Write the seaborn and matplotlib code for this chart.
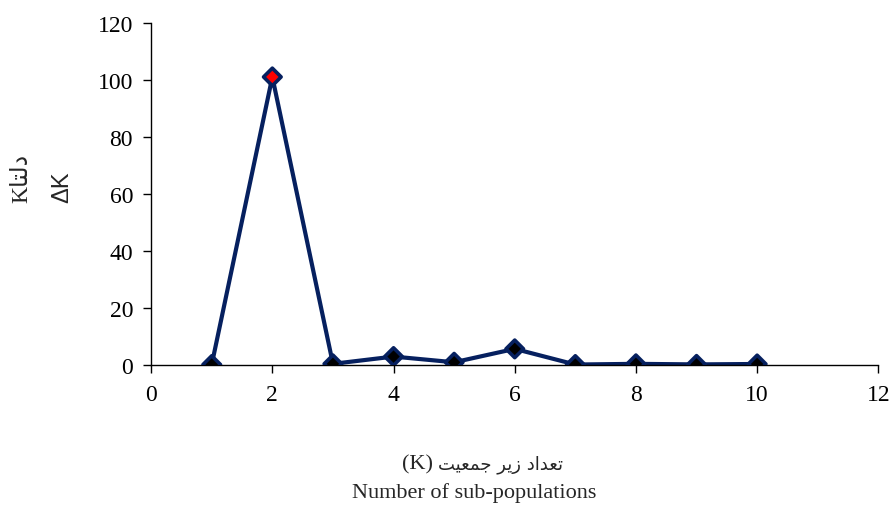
import matplotlib
matplotlib.use("Agg")
import matplotlib.pyplot as plt
import seaborn as sns
import pandas as pd

k_values = [1, 2, 3, 4, 5, 6, 7, 8, 9, 10]
delta_k = [0.1, 101.0, 0.35, 2.9, 0.9, 5.6, 0.1, 0.35, 0.15, 0.3]
highlight = [False, True, False, False, False, False, False, False, False, False]
x_ticks = [0, 2, 4, 6, 8, 10, 12]
y_ticks = [0, 20, 40, 60, 80, 100, 120]

# pre-shaped Persian (visual order, presentation forms)
xlabel_fa = "\uFE96\uFBFF\uFECC\uFEE4\uFE9F" + " " + "\uFEAE\uFBFE\uFEAF" + " " + "\uFEA9\uFE8D\uFEAA\uFECC\uFE97"
xlabel_k = "(K)"
xlabel_en = "Number of sub-populations"
ylabel_fa = "K" + "\uFE8E\uFE98\uFEDF\uFEA9"
ylabel_en = "\u0394K"

sns.set_theme(style="white")
plt.rcParams["font.family"] = ["Liberation Serif", "DejaVu Sans"]

df = pd.DataFrame({"K": k_values, "dK": delta_k, "hl": highlight})

fig = plt.figure(figsize=(8.89, 5.06), dpi=100)
ax = fig.add_axes([0.170, 0.277, 0.818, 0.676])

navy = "#06205f"
sns.lineplot(data=df, x="K", y="dK", ax=ax, color=navy, linewidth=3.0, zorder=2)
faces = ["red" if h else "black" for h in df["hl"]]
ax.scatter(df["K"], df["dK"], marker="D", s=80, c=faces, edgecolors=navy,
           linewidths=2.6, zorder=3)

ax.set_xlim(0, 12)
ax.set_ylim(0, 120)
ax.set_xticks(x_ticks)
ax.set_yticks(y_ticks)
ax.tick_params(axis="both", labelsize=17, direction="out", length=5.5, width=1,
               colors="black", bottom=True, left=True)
ax.tick_params(axis="y", pad=7.5)
ax.tick_params(axis="x", pad=8.5)
for lab in ax.get_xticklabels() + ax.get_yticklabels():
    lab.set_family(["Liberation Serif"])
for side in ["top", "right"]:
    ax.spines[side].set_visible(False)
for side in ["left", "bottom"]:
    ax.spines[side].set_color("black")
    ax.spines[side].set_linewidth(1)
ax.set_xlabel("")
ax.set_ylabel("")
ax.grid(False)

fig.text(0.4875, 0.073, xlabel_k, ha="right", va="baseline", fontsize=16,
         family=["Liberation Serif"])
fig.text(0.4925, 0.073, xlabel_fa, ha="left", va="baseline", fontsize=13,
         family=["DejaVu Sans"])
fig.text(0.533, 0.015, xlabel_en, ha="center", va="baseline", fontsize=16,
         family=["Liberation Serif"])
fig.text(0.0245, 0.599, ylabel_fa, ha="center", va="bottom", fontsize=17,
         rotation=90, family=["Liberation Serif", "DejaVu Sans"])
fig.text(0.0695, 0.599, ylabel_en, ha="center", va="bottom", fontsize=17,
         rotation=90, family=["Liberation Sans"])

fig.savefig("out.png", dpi=100)
